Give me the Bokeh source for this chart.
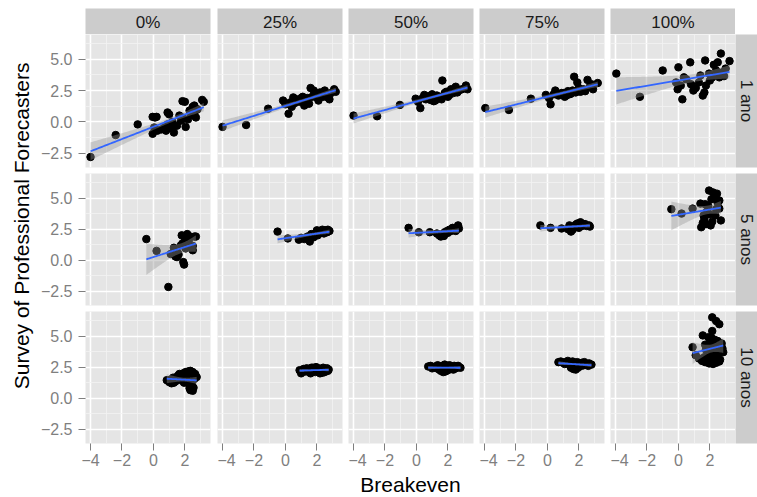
import numpy as np
from bokeh.plotting import figure
from bokeh.models import Range1d, FixedTicker, GridBox, ColumnDataSource
from bokeh.embed import file_html
from bokeh.resources import INLINE
from bokeh.core.properties import value

# ---------------- data ----------------
col_labels = ["0%", "25%", "50%", "75%", "100%"]
row_labels = ["1 ano", "5 anos", "10 anos"]
x_ticks = [-4, -2, 0, 2]
x_tick_labels = ["\u22124", "\u22122", "0", "2"]
x_minor = [-3, -1, 1, 3]
y_ticks = [-2.5, 0, 2.5, 5]
y_tick_labels = ["\u22122.5", "0.0", "2.5", "5.0"]
y_minor = [-1.25, 1.25, 3.75, 6.25]
x_title = "Breakeven"
y_title = "Survey of Professional Forecasters"

# 1 ano
x_1ano_0 = [-4.0, -2.4, -1.0, -0.05, 0.1, 0.2, 0.9, 1.0, 1.85, 2.0, 3.1, 3.2, 2.5, 2.6, -0.05, 0.25, 0.5, 0.7, 0.8,
            1.1, 1.3, 1.5, 1.75, 2.05, 2.2, 2.7, 2.4, 0.05, 1.65, 1.85, 2.3, 2.5, 2.8, 0.9, 1.2, 1.9, 2.6]
y_1ano_0 = [-2.8, -1.05, -0.2, 0.4, 0.35, 0.4, 0.75, 0.6, 1.65, 1.6, 1.75, 1.6, 1.2, 1.3, -0.95, -0.7, -0.6, -0.45, -0.7,
            -0.45, -0.85, -0.3, 0.1, -0.4, 0.2, 0.35, 0.6, -0.45, 0.5, 0.35, 0.9, 1.0, 1.0, -0.2, 0.0, 0.25, 0.7]
x_1ano_25 = [-4.0, -2.5, -1.1, -0.15, 0.2, 0.5, 0.0, 0.3, 0.7, 0.9, 1.0, 1.2, 1.3, 1.5, 1.6, 1.8, 2.0, 2.1, 2.3, 2.5,
             2.6, 2.7, 2.8, 3.1, 3.2, 0.6, 1.1, 1.7, 1.9, 2.2, 2.4, 0.4, 1.4, 2.9]
y_1ano_25 = [-0.4, -0.25, 1.05, 1.7, 0.65, 1.95, 1.4, 1.55, 1.8, 1.6, 1.9, 1.3, 1.75, 1.45, 2.7, 2.5, 1.95, 1.7, 2.3, 2.5,
             2.1, 1.95, 1.8, 2.6, 2.4, 1.5, 2.0, 2.0, 2.2, 2.35, 2.0, 1.2, 1.9, 2.3]
x_1ano_50 = [-4.0, -2.5, -1.05, -0.05, 0.25, 0.5, 0.1, 0.4, 0.7, 0.9, 1.1, 1.3, 1.5, 1.65, 1.8, 2.0, 2.2, 2.35, 2.5, 2.7,
             2.9, 3.15, 3.25, 0.6, 1.0, 1.2, 1.4, 1.9, 2.1, 2.6, 0.8, 1.6]
y_1ano_50 = [0.5, 0.45, 1.35, 1.85, 1.1, 2.15, 1.6, 1.9, 2.0, 1.75, 1.65, 2.1, 1.95, 3.3, 2.3, 2.0, 2.6, 2.3, 2.8, 2.5,
             2.6, 2.9, 2.6, 1.8, 2.2, 1.7, 2.0, 2.4, 2.15, 2.35, 2.05, 1.8]
x_1ano_75 = [-3.95, -2.45, -1.05, -0.1, 0.2, 0.5, 0.1, 0.4, 0.7, 0.9, 1.1, 1.3, 1.5, 1.7, 1.9, 2.1, 2.3, 2.55, 2.7, 2.9,
             3.2, 0.6, 1.0, 1.2, 1.6, 2.0, 2.4, 2.8, 1.4, 1.8]
y_1ano_75 = [1.1, 0.95, 1.85, 2.15, 1.4, 2.5, 1.9, 2.2, 2.1, 2.3, 2.0, 2.45, 2.25, 3.6, 3.15, 2.4, 2.6, 3.35, 2.8, 2.6,
             3.1, 2.2, 2.3, 2.1, 2.5, 2.7, 2.45, 3.0, 2.2, 2.35]
x_1ano_100 = [-3.95, -2.45, -1.0, 0.0, 0.75, 1.7, 2.7, 3.25, 2.5, 2.25, 0.35, -0.15, -0.05, 0.25, 0.95, 1.65, 1.75, 1.3,
              1.95, 2.15, 2.8, 3.0, 2.4, 0.8, 0.15, 2.6, 1.55, 1.1, 2.0, 0.5, 1.4, 2.9]
y_1ano_100 = [3.85, 2.0, 4.1, 4.35, 4.75, 4.9, 5.45, 4.85, 4.75, 4.55, 3.55, 3.15, 2.6, 1.8, 2.5, 2.35, 2.9, 3.15,
              3.85, 3.55, 3.95, 4.25, 4.1, 3.0, 2.9, 3.55, 2.1, 2.7, 3.3, 3.4, 3.7, 3.65]

# 5 anos
x_5anos_0 = [-0.45, 0.2, 0.95, 1.5, 1.9, 1.95, 1.3, 2.15, 2.7, 2.25, 1.85, 2.05, 2.5, 1.55, 1.75, 2.5, 1.1, 1.6, 2.0,
             2.35, 2.6, 1.4, 2.2, 1.8]
y_5anos_0 = [1.7, 0.75, -2.15, 0.25, -0.15, -0.35, 1.0, 2.1, 1.9, 1.6, 1.35, 0.95, 0.8, 0.6, 1.2, 1.15, 0.5, 0.45, 1.8,
             1.9, 1.9, 0.3, 1.3, 2.0]
x_5anos_25 = [-0.5, 0.15, 0.85, 1.55, 2.05, 2.25, 2.55, 2.8, 1.8, 1.4, 2.45, 1.2, 1.65, 1.95, 2.15, 2.35, 2.65, 2.7, 1.0,
              2.0, 2.5, 2.3]
y_5anos_25 = [2.3, 1.75, 1.65, 1.5, 2.0, 2.3, 2.4, 2.35, 1.85, 1.9, 2.15, 1.7, 2.1, 2.2, 2.35, 2.45, 2.25, 2.45, 1.8,
              2.4, 2.3, 2.2]
x_5anos_50 = [-0.5, 0.15, 0.85, 1.45, 1.55, 1.95, 2.3, 2.65, 2.5, 1.65, 1.8, 2.1, 2.4, 2.7, 1.3, 2.0, 2.2, 1.75]
y_5anos_50 = [2.6, 2.25, 2.25, 2.0, 1.9, 2.35, 2.6, 2.8, 2.35, 2.1, 2.25, 2.45, 2.5, 2.55, 2.15, 2.2, 2.35, 1.95]
x_5anos_75 = [-0.45, 0.2, 0.9, 1.4, 1.5, 2.1, 2.65, 1.7, 1.9, 2.3, 2.5, 1.6, 2.0, 2.2, 2.4, 2.7, 1.3, 1.8]
y_5anos_75 = [2.8, 2.6, 2.55, 2.8, 2.3, 3.05, 2.8, 2.65, 2.95, 2.9, 2.75, 2.45, 2.6, 2.75, 2.9, 2.7, 2.5, 2.85]
x_5anos_100 = [-0.45, 0.2, 0.9, 1.4, 1.95, 2.45, 2.6, 2.7, 1.45, 1.65, 2.05, 1.7, 2.2, 2.3, 1.9, 1.8, 2.5, 2.35, 1.55,
               2.15, 2.6, 1.75, 2.0, 2.4, 1.6, 2.1]
y_5anos_100 = [4.1, 3.75, 4.15, 4.55, 5.6, 5.35, 4.15, 3.2, 2.65, 3.35, 2.8, 4.5, 5.45, 5.0, 4.35, 3.9, 4.6, 3.6, 3.0,
               3.1, 4.8, 2.9, 3.7, 4.1, 3.6, 4.9]

# 10 anos
x_10anos_0 = [0.85, 1.0, 1.15, 1.3, 1.45, 1.6, 1.75, 1.9, 2.05, 2.2, 2.35, 2.5, 2.65, 2.75, 1.1, 1.4, 1.7, 2.0, 2.3, 2.6,
              1.25, 1.55, 1.85, 2.15, 2.45, 2.3, 2.4, 2.5, 2.35, 2.55, 2.45, 2.3, 1.95, 2.1, 1.65]
y_10anos_0 = [1.45, 1.3, 1.2, 1.25, 1.6, 1.75, 1.9, 2.0, 2.1, 2.15, 2.2, 2.1, 1.95, 1.7, 1.5, 1.35, 1.5, 1.7, 1.9, 1.55,
              1.65, 1.8, 1.4, 1.3, 1.4, 1.0, 0.75, 0.6, 0.65, 0.85, 1.05, 0.8, 1.25, 1.55, 1.95]
x_10anos_25 = [0.9, 1.05, 1.2, 1.35, 1.5, 1.65, 1.8, 1.95, 2.1, 2.25, 2.4, 2.55, 2.7, 1.0, 1.3, 1.6, 1.9, 2.2, 2.5, 2.75,
               1.15, 1.45, 1.75, 2.05, 2.35, 2.65]
y_10anos_25 = [2.25, 2.1, 2.3, 2.4, 2.2, 2.45, 2.3, 2.5, 2.4, 2.3, 2.45, 2.35, 2.2, 2.0, 2.15, 2.0, 2.1, 2.0, 2.1, 2.3,
               2.35, 2.3, 2.45, 2.2, 2.05, 2.4]
x_10anos_50 = [0.75, 0.9, 1.05, 1.2, 1.35, 1.5, 1.65, 1.8, 1.95, 2.1, 2.25, 2.4, 2.55, 2.7, 2.8, 1.0, 1.3, 1.6, 1.9,
               2.2, 2.5, 1.55, 1.7, 1.85, 2.0, 1.45, 2.35, 2.65]
y_10anos_50 = [2.55, 2.6, 2.5, 2.55, 2.65, 2.5, 2.6, 2.7, 2.55, 2.65, 2.5, 2.6, 2.55, 2.5, 2.45, 2.4, 2.4, 2.35, 2.4,
               2.35, 2.4, 2.2, 2.1, 2.15, 2.25, 2.3, 2.3, 2.6]
x_10anos_75 = [0.7, 0.85, 1.0, 1.15, 1.3, 1.45, 1.6, 1.75, 1.9, 2.05, 2.2, 2.35, 2.5, 2.65, 2.8, 1.1, 1.4, 1.7, 2.0,
               2.3, 2.6, 1.5, 1.65, 1.8, 1.95, 1.55, 2.15, 2.45]
y_10anos_75 = [2.9, 2.95, 2.85, 2.9, 3.0, 2.9, 2.95, 2.85, 2.9, 2.8, 2.85, 2.9, 2.75, 2.8, 2.7, 2.75, 2.7, 2.65, 2.7,
               2.65, 2.6, 2.45, 2.35, 2.3, 2.45, 2.55, 2.6, 2.7]
x_10anos_100 = [2.15, 2.4, 2.6, 1.55, 2.15, 0.9, 1.1, 1.7, 1.9, 2.1, 2.3, 2.5, 2.7, 1.75, 2.0, 2.25, 2.5, 2.75, 1.65,
                1.85, 2.05, 2.3, 2.55, 2.8, 1.8, 2.0, 2.2, 2.45, 2.65, 1.7, 1.95, 2.2, 2.4, 2.6, 2.85, 1.3, 1.5]
y_10anos_100 = [6.5, 6.2, 5.95, 5.05, 5.4, 4.1, 3.45, 4.3, 4.9, 4.85, 4.7, 4.6, 4.4, 3.9, 4.4, 4.25, 4.1, 4.4, 3.3,
                3.7, 3.9, 3.75, 3.6, 4.0, 3.3, 3.4, 3.2, 3.35, 3.1, 2.9, 2.8, 2.75, 2.85, 2.95, 3.7, 3.2, 3.0]

panels = [
    [(x_1ano_0, y_1ano_0), (x_1ano_25, y_1ano_25), (x_1ano_50, y_1ano_50), (x_1ano_75, y_1ano_75), (x_1ano_100, y_1ano_100)],
    [(x_5anos_0, y_5anos_0), (x_5anos_25, y_5anos_25), (x_5anos_50, y_5anos_50), (x_5anos_75, y_5anos_75), (x_5anos_100, y_5anos_100)],
    [(x_10anos_0, y_10anos_0), (x_10anos_25, y_10anos_25), (x_10anos_50, y_10anos_50), (x_10anos_75, y_10anos_75), (x_10anos_100, y_10anos_100)],
]

# ---------------- styling / geometry ----------------
FONT = "Liberation Sans"
PW = 125
FRAME_H = [133, 132, 132]
COL_GAP = [7, 6, 6, 6, 0]
ROW_GAP = 6
TOP_PAD = 8
LEFT_AX = 51
BOTTOM_AX = 28
STRIP_H = 26
RSTRIP_W = 22
YT_W = 34
XT_H = 26
X_RANGE = (-4.32, 3.63)
Y_RANGE = (-3.64, 6.97)


def t975(df):
    z = 1.959963984540054
    g1 = (z ** 3 + z) / 4
    g2 = (5 * z ** 5 + 16 * z ** 3 + 3 * z) / 96
    g3 = (3 * z ** 7 + 19 * z ** 5 + 17 * z ** 3 - 15 * z) / 384
    g4 = (79 * z ** 9 + 776 * z ** 7 + 1482 * z ** 5 - 1920 * z ** 3 - 945 * z) / 92160
    return z + g1 / df + g2 / df ** 2 + g3 / df ** 3 + g4 / df ** 4


def lm_band(x, y):
    x = np.asarray(x, float)
    y = np.asarray(y, float)
    n = len(x)
    xm = x.mean()
    sxx = ((x - xm) ** 2).sum()
    b = ((x - xm) * (y - y.mean())).sum() / sxx
    a = y.mean() - b * xm
    s = np.sqrt(((y - (a + b * x)) ** 2).sum() / (n - 2))
    xs = np.linspace(x.min(), x.max(), 80)
    fit = a + b * xs
    se = s * np.sqrt(1.0 / n + (xs - xm) ** 2 / sxx)
    t = t975(n - 2)
    return xs, fit, fit - t * se, fit + t * se


def base_fig(w, h, left, right, top, bottom, xr, yr, xloc=None, yloc=None):
    p = figure(width=w, height=h, x_range=Range1d(*xr), y_range=Range1d(*yr),
               x_axis_location=xloc, y_axis_location=yloc,
               min_border_left=left, min_border_right=right, min_border_top=top, min_border_bottom=bottom,
               toolbar_location=None, output_backend="svg")
    p.outline_line_color = None
    p.border_fill_color = "white"
    return p


def col_borders(ci):
    return (LEFT_AX if ci == 0 else 0), COL_GAP[ci]


def make_panel(ci, ri, xd, yd):
    left, right = col_borders(ci)
    bottom = ROW_GAP if ri < 2 else BOTTOM_AX
    w = left + PW + right
    h = FRAME_H[ri] + bottom
    p = base_fig(w, h, left, right, 0, bottom, X_RANGE, Y_RANGE,
                 xloc="below" if ri == 2 else None, yloc="left" if ci == 0 else None)
    p.background_fill_color = "#E5E5E5"
    p.xgrid.ticker = FixedTicker(ticks=x_ticks, minor_ticks=x_minor)
    p.ygrid.ticker = FixedTicker(ticks=y_ticks, minor_ticks=y_minor)
    for g in (p.xgrid, p.ygrid):
        g.grid_line_color = "white"
        g.grid_line_width = 1.6
        g.minor_grid_line_color = "#F2F2F2"
        g.minor_grid_line_width = 0.8
    if ri == 2:
        ax = p.xaxis[0]
        ax.ticker = FixedTicker(ticks=x_ticks)
        ax.major_label_overrides = dict(zip(x_ticks, x_tick_labels))
        ax.major_label_standoff = 3
    if ci == 0:
        ax = p.yaxis[0]
        ax.ticker = FixedTicker(ticks=y_ticks)
        ax.major_label_overrides = dict(zip(y_ticks, y_tick_labels))
        ax.major_label_standoff = 6
    for ax in list(p.xaxis) + list(p.yaxis):
        ax.axis_line_color = None
        ax.major_tick_line_color = "#7F7F7F"
        ax.major_tick_line_width = 1
        ax.major_tick_out = 7
        ax.major_tick_in = 0
        ax.minor_tick_line_color = None
        ax.major_label_text_font = FONT
        ax.major_label_text_font_size = "16px"
        ax.major_label_text_color = "#7F7F7F"

    src = ColumnDataSource(dict(x=xd, y=yd))
    p.scatter("x", "y", source=src, size=7.5, fill_color="black", line_color="black")
    xs, fit, lo, hi = lm_band(xd, yd)
    band = ColumnDataSource(dict(x=xs, fit=fit, lo=lo, hi=hi))
    p.varea(x="x", y1="lo", y2="hi", source=band, fill_color="#999999", fill_alpha=0.4)
    p.line(x="x", y="fit", source=band, line_color="#3366FF", line_width=1.8)
    return p


def make_top_strip(ci, label):
    left, right = col_borders(ci)
    p = base_fig(left + PW + right, TOP_PAD + STRIP_H, left, right, TOP_PAD, 0, (0, 1), (0, 1))
    p.background_fill_color = "#CCCCCC"
    p.xgrid.visible = False
    p.ygrid.visible = False
    p.text(x=[0.5], y=[0.45], text=[label], text_align="center", text_baseline="middle",
           text_font=value(FONT), text_font_size="17px", text_color="#1A1A1A")
    return p


def make_right_strip(ri, label):
    bottom = ROW_GAP if ri < 2 else BOTTOM_AX
    p = base_fig(RSTRIP_W, FRAME_H[ri] + bottom, 0, 0, 0, bottom, (0, 1), (0, 1))
    p.background_fill_color = "#CCCCCC"
    p.xgrid.visible = False
    p.ygrid.visible = False
    p.text(x=[0.5], y=[0.5], text=[label], text_align="center", text_baseline="middle", angle=-np.pi / 2,
           text_font=value(FONT), text_font_size="17px", text_color="#1A1A1A")
    return p


children = []
for ci, lab in enumerate(col_labels):
    children.append((make_top_strip(ci, lab), 0, ci + 1))
for ri, rlab in enumerate(row_labels):
    for ci in range(5):
        xd, yd = panels[ri][ci]
        children.append((make_panel(ci, ri, xd, yd), ri + 1, ci + 1))
    children.append((make_right_strip(ri, rlab), ri + 1, 6))

# y-axis title (spans the three panel rows)
panel_span = sum(FRAME_H) + 2 * ROW_GAP
yt_h = panel_span + BOTTOM_AX
yt = base_fig(YT_W, yt_h, 0, 0, 0, 0, (0, YT_W), (0, yt_h))
yt.xgrid.visible = False
yt.ygrid.visible = False
yt.background_fill_color = "white"
yt.text(x=[20.5], y=[yt_h - panel_span / 2], text=[y_title], angle=np.pi / 2, text_align="center",
        text_baseline="middle", text_font=value(FONT), text_font_size="21px", text_color="black")
children.append((yt, 1, 0, 3, 1))

# x-axis title (spans full width)
total_w = YT_W + LEFT_AX + 5 * PW + sum(COL_GAP) + RSTRIP_W
xt = base_fig(total_w, XT_H, 0, 0, 0, 0, (0, total_w), (0, XT_H))
xt.xgrid.visible = False
xt.ygrid.visible = False
xt.background_fill_color = "white"
center_x = YT_W + LEFT_AX + (5 * PW + sum(COL_GAP)) / 2
xt.text(x=[center_x], y=[13], text=[x_title], text_align="center", text_baseline="middle",
        text_font=value(FONT), text_font_size="21px", text_color="black")
children.append((xt, 4, 0, 1, 7))

layout = GridBox(children=children, spacing=0)

open("out.html", "w").write(file_html(layout, INLINE))
